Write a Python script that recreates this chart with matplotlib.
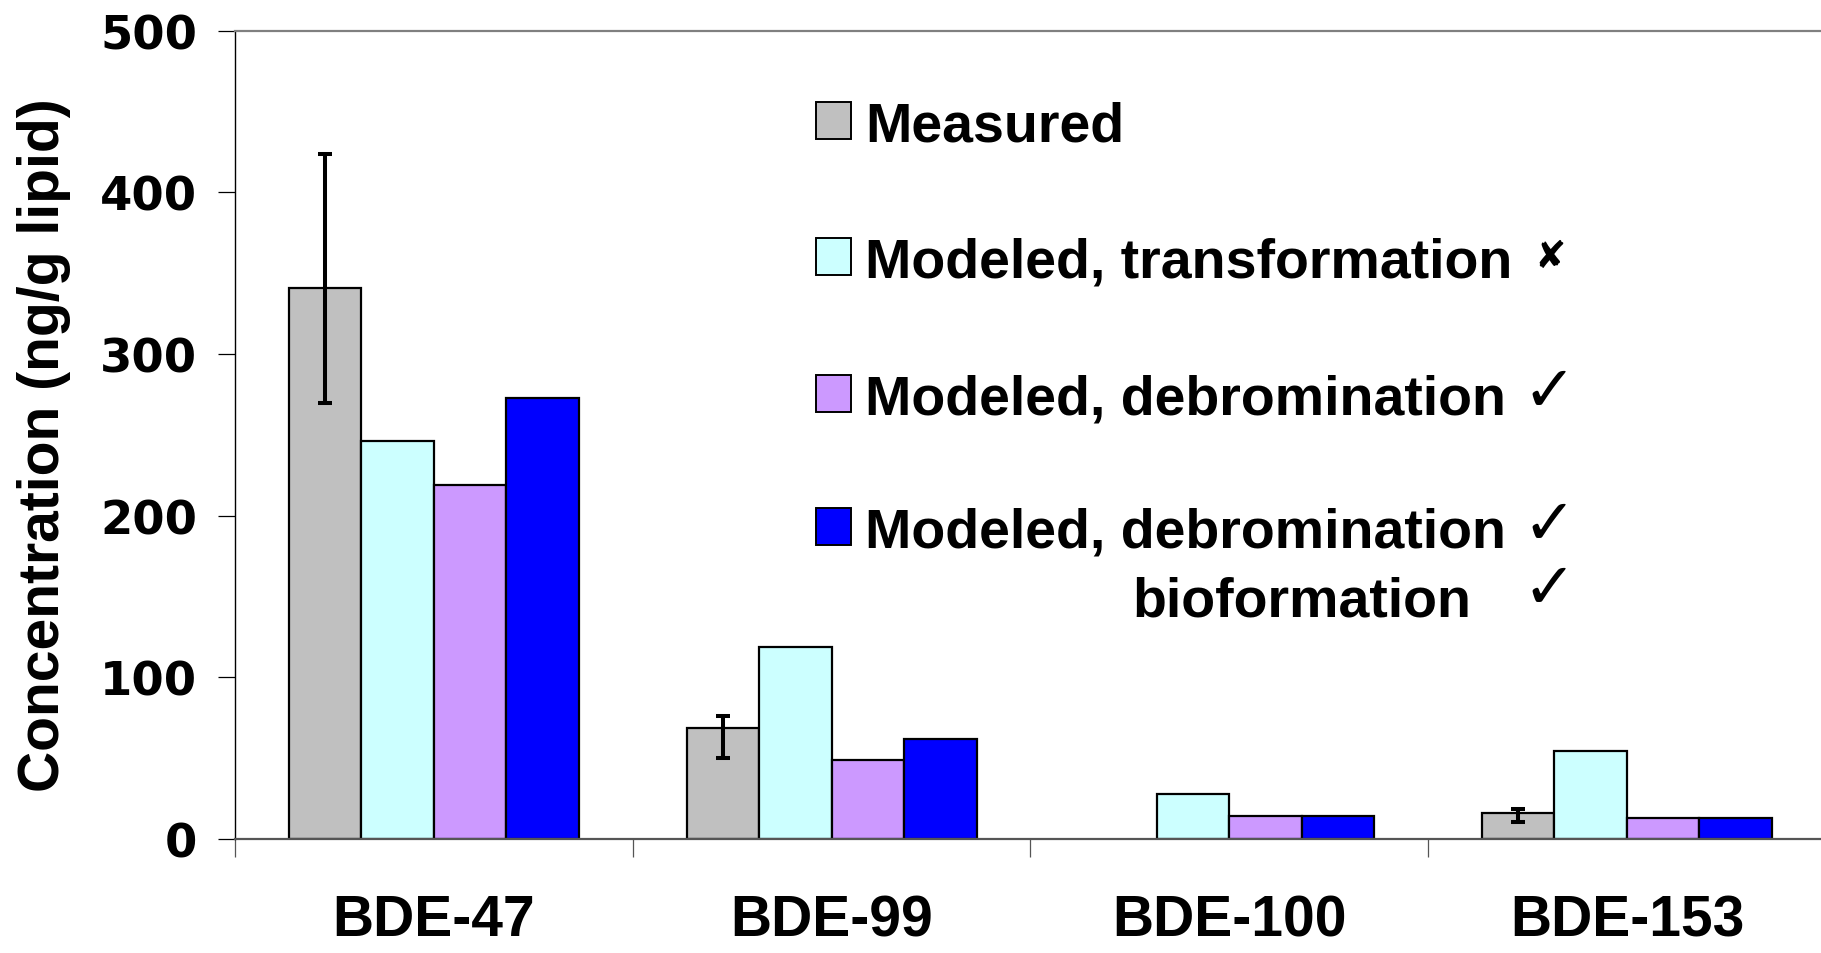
import numpy as np
import matplotlib
matplotlib.use("Agg")
import matplotlib.pyplot as plt
from matplotlib.patches import Rectangle

# --- data -------------------------------------------------------------
congeners = ["BDE-47", "BDE-99", "BDE-100", "BDE-153"]
measured = [341, 68.5, np.nan, 16.0]
measured_err_low = [71, 18.7, 0, 5.6]
measured_err_high = [83, 7.7, 0, 2.6]
modeled_transformation = [246, 118.7, 27.8, 54.6]
modeled_debromination = [219, 49.0, 14.4, 13.0]
modeled_debrom_bioformation = [273, 62.0, 14.4, 13.0]
y_ticks = [0, 100, 200, 300, 400, 500]

series_labels = ["Measured", "Modeled, transformation",
                 "Modeled, debromination", "Modeled, debromination"]
series_colors = ["#C0C0C0", "#CCFFFF", "#CC99FF", "#0000FF"]

# --- figure -----------------------------------------------------------
W, H = 1821, 954
fig = plt.figure(figsize=(W / 100, H / 100), dpi=100)
ax_left, ax_right, ax_top, ax_bottom = 235, 235 + 4 * 397.7, 31.7, 840
ax = fig.add_axes([ax_left / W, (H - ax_bottom) / H,
                   (ax_right - ax_left) / W, (ax_bottom - ax_top) / H])

TXT = ["Liberation Sans", "DejaVu Sans"]

x = np.arange(len(congeners))
bw = 0.1823
series = [measured, modeled_transformation, modeled_debromination,
          modeled_debrom_bioformation]
for i, (vals, col) in enumerate(zip(series, series_colors)):
    ax.bar(x + (i - 1.5) * bw, vals, width=bw, color=col,
           edgecolor="black", linewidth=1.6, zorder=2)

# error bars on the measured series
ax.errorbar(x - 1.5 * bw, measured,
            yerr=[measured_err_low, measured_err_high],
            fmt="none", ecolor="black", elinewidth=2.9,
            capsize=5, capthick=2.9, zorder=3)

ax.set_xlim(-0.5, 3.5)
ax.set_ylim(0, 500)

# y axis
ax.set_yticks(y_ticks)
ax.set_yticklabels([str(v) for v in y_ticks], fontfamily="DejaVu Sans",
                   fontweight="bold", fontsize=33.5)
ax.tick_params(axis="y", direction="out", length=12.2, width=0.9,
               color="black", pad=15)

# x axis: labels at group centres, tick marks between groups
ax.set_xticks(x)
ax.set_xticklabels(congeners, fontfamily=TXT, fontweight="bold", fontsize=41)
ax.tick_params(axis="x", which="major", length=0, pad=39)
ax.set_xticks(np.arange(-0.5, 4.0, 1.0), minor=True)
ax.tick_params(axis="x", which="minor", direction="out", length=13,
               width=0.9, color="#555555")

ax.set_ylabel("Concentration (ng/g lipid)", fontfamily=TXT,
              fontweight="bold", fontsize=41, va="center")
ax.yaxis.set_label_coords((44 - ax_left) / (ax_right - ax_left), 0.489)

ax.spines["right"].set_visible(False)
ax.spines["top"].set_color("#808080")
ax.spines["top"].set_linewidth(1.6)
ax.spines["left"].set_color("black")
ax.spines["left"].set_linewidth(1.0)
ax.spines["bottom"].set_color("#555555")
ax.spines["bottom"].set_linewidth(1.6)

# --- legend -------------------------------------------------------------
def fx(px):
    return px / W


def fy(py):
    return 1 - py / H


row_y = [122, 258, 395, 528]
for yy, lab, col in zip(row_y, series_labels, series_colors):
    fig.patches.append(Rectangle((fx(816), fy(yy + 18)), fx(35), 37 / H,
                                 transform=fig.transFigure, facecolor=col,
                                 edgecolor="black", linewidth=1.4))
    fig.text(fx(865), fy(yy), lab, fontfamily=TXT, fontweight="bold",
             fontsize=40, va="center_baseline", ha="left")

fig.text(fx(1132), fy(597), "bioformation", fontfamily=TXT,
         fontweight="bold", fontsize=40, va="center_baseline", ha="left")

fig.text(fx(1550), fy(258), "\u2718", fontfamily="DejaVu Sans",
         fontsize=27, va="center", ha="center")
for yy in (395, 528, 592):
    fig.text(fx(1549), fy(yy - 2), "\u2713", fontfamily="DejaVu Sans",
             fontsize=46, va="center", ha="center")

fig.savefig("out.png", dpi=100, facecolor="white")
